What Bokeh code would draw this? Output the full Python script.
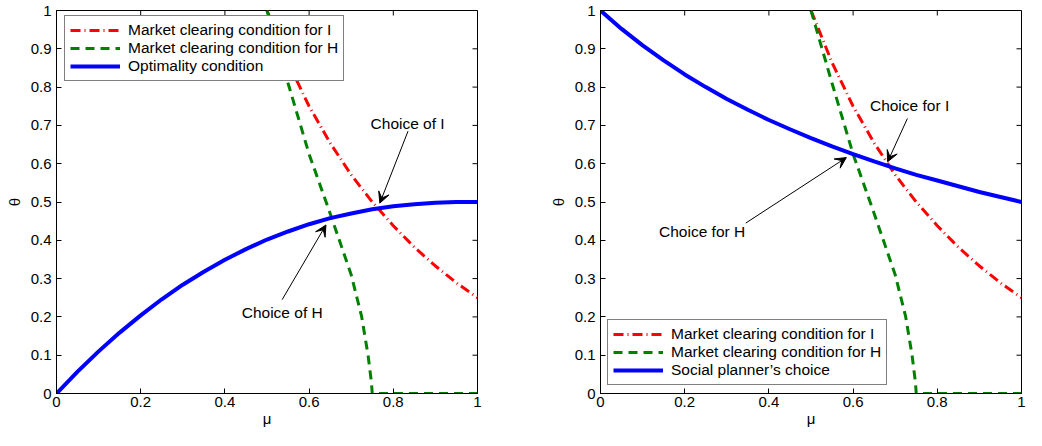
import math
from bokeh.plotting import figure
from bokeh.models import Range1d, FixedTicker, Arrow, VeeHead
from bokeh.layouts import row
from bokeh.core.properties import value
from bokeh.embed import file_html
from bokeh.resources import INLINE

# ---------------- data ----------------
x_ticks = [0, 0.2, 0.4, 0.6, 0.8, 1.0]
x_tick_labels = ["0", "0.2", "0.4", "0.6", "0.8", "1"]
y_ticks = [0, 0.1, 0.2, 0.3, 0.4, 0.5, 0.6, 0.7, 0.8, 0.9, 1.0]
y_tick_labels = ["0", "0.1", "0.2", "0.3", "0.4", "0.5", "0.6", "0.7", "0.8", "0.9", "1"]

mu_I = [0.5, 0.55, 0.6, 0.65, 0.7, 0.75, 0.8, 0.85, 0.9, 0.95, 1.0]
theta_I = [1.0, 0.864, 0.75, 0.654, 0.571, 0.5, 0.438, 0.382, 0.333, 0.289, 0.25]

mu_H = [0.5, 0.55, 0.6, 0.65, 0.7, 0.725, 0.74, 0.748, 0.75, 0.8, 0.9, 1.0]
theta_H = [1.0, 0.81, 0.625, 0.47, 0.31, 0.2, 0.1, 0.03, 0.0, 0.0, 0.0, 0.0]

mu_curve = [0, 0.05, 0.1, 0.15, 0.2, 0.25, 0.3, 0.35, 0.4, 0.45, 0.5,
            0.55, 0.6, 0.65, 0.7, 0.75, 0.8, 0.85, 0.9, 0.95, 1.0]
theta_optimality = [0, 0.057, 0.11, 0.159, 0.204, 0.246, 0.284, 0.318, 0.349, 0.377, 0.402,
                    0.423, 0.442, 0.458, 0.47, 0.481, 0.489, 0.494, 0.498, 0.5, 0.5]
theta_social = [1.0, 0.952, 0.909, 0.87, 0.833, 0.8, 0.769, 0.741, 0.714, 0.69, 0.667,
                0.645, 0.625, 0.606, 0.588, 0.571, 0.556, 0.541, 0.526, 0.513, 0.5]

legend_I = "Market clearing condition for I"
legend_H = "Market clearing condition for H"
legend_opt = "Optimality condition"
legend_social = "Social planner\u2019s choice"

RED = "#ff0000"
GREEN = "#008000"
BLUE = "#0000ff"
FONT = "Arial"
TICK_SIZE = "15px"
TEXT_SIZE = "15.5px"

X_MIN, X_MAX = 0.0, 1.0
Y_MIN, Y_MAX = 0.0, 1.0
FRAME_W, FRAME_H = 421, 383


def make_fig(border_left, border_right):
    p = figure(frame_width=FRAME_W, frame_height=FRAME_H, output_backend="svg",
               toolbar_location=None,
               x_range=Range1d(X_MIN, X_MAX), y_range=Range1d(Y_MIN, Y_MAX),
               min_border_left=border_left, min_border_right=border_right,
               min_border_top=10, min_border_bottom=37)
    p.xgrid.grid_line_color = None
    p.ygrid.grid_line_color = None
    p.outline_line_color = "black"
    p.outline_line_width = 1
    p.background_fill_color = "white"

    for ax, ticks, labels in ((p.xaxis[0], x_ticks, x_tick_labels),
                              (p.yaxis[0], y_ticks, y_tick_labels)):
        ax.ticker = FixedTicker(ticks=ticks)
        ax.major_label_overrides = {t: l for t, l in zip(ticks, labels)}
        ax.major_tick_in = 5
        ax.major_tick_out = 0
        ax.minor_tick_line_color = None
        ax.major_label_text_font = FONT
        ax.major_label_text_font_size = TICK_SIZE
        ax.major_label_text_color = "black"
        ax.axis_label_text_font = FONT
        ax.axis_label_text_font_size = TICK_SIZE
        ax.axis_label_text_font_style = "normal"
        ax.axis_label_text_color = "black"
        ax.axis_line_color = "black"
        ax.major_tick_line_color = "black"
    p.xaxis[0].axis_label = "\u03bc"
    p.xaxis[0].major_label_standoff = 3
    p.xaxis[0].axis_label_standoff = 0
    p.yaxis[0].axis_label = "\u03b8"
    p.yaxis[0].major_label_standoff = 5
    p.yaxis[0].axis_label_standoff = 5

    # mirrored ticks on the top and right edges of the box
    p.ray(x=x_ticks, y=[Y_MAX] * len(x_ticks), length=5, length_units="screen",
          angle=-math.pi / 2, line_color="black", line_width=1)
    p.ray(x=[X_MAX] * len(y_ticks), y=y_ticks, length=5, length_units="screen",
          angle=math.pi, line_color="black", line_width=1)
    return p


def add_text(p, x, y, s):
    p.text(x=[x], y=[y], text=[s], text_font=value(FONT), text_font_size=TEXT_SIZE,
           text_color="black", text_align="left", text_baseline="middle")


def add_arrow(p, xs, ys, xe, ye):
    p.add_layout(Arrow(end=VeeHead(size=11, fill_color="black", line_color="black", line_width=1),
                       x_start=xs, y_start=ys, x_end=xe, y_end=ye,
                       line_color="black", line_width=1))


def style_legend(p, loc):
    lg = p.legend[0]
    lg.location = loc
    lg.border_line_color = "black"
    lg.border_line_width = 1
    lg.background_fill_color = "white"
    lg.background_fill_alpha = 1.0
    lg.label_text_font = FONT
    lg.label_text_font_size = TEXT_SIZE
    lg.label_text_color = "black"
    lg.glyph_width = 50
    lg.glyph_height = 18
    lg.label_height = 18
    lg.label_standoff = 8
    lg.spacing = 0
    lg.padding = 5
    lg.margin = 0


# ---------------- left panel ----------------
p1 = make_fig(56, 10)
p1.line(mu_I, theta_I, line_color=RED, line_width=3, line_dash="10 4 1 4", legend_label=legend_I)
p1.line(mu_H, theta_H, line_color=GREEN, line_width=3, line_dash="9 6", legend_label=legend_H)
p1.line(mu_curve, theta_optimality, line_color=BLUE, line_width=4, legend_label=legend_opt)
style_legend(p1, (8, 312))
add_text(p1, 0.746, 0.706, "Choice of I")
add_arrow(p1, 0.835, 0.685, 0.768, 0.497)
add_text(p1, 0.44, 0.212, "Choice of H")
add_arrow(p1, 0.536, 0.245, 0.64, 0.44)

# ---------------- right panel ----------------
p2 = make_fig(113, 5)
p2.line(mu_I, theta_I, line_color=RED, line_width=3, line_dash="10 4 1 4", legend_label=legend_I)
p2.line(mu_H, theta_H, line_color=GREEN, line_width=3, line_dash="9 6", legend_label=legend_H)
p2.line(mu_curve, theta_social, line_color=BLUE, line_width=4, legend_label=legend_social)
style_legend(p2, (7, 8))
add_text(p2, 0.64, 0.751, "Choice for I")
add_arrow(p2, 0.729, 0.718, 0.682, 0.605)
add_text(p2, 0.139, 0.424, "Choice for H")
add_arrow(p2, 0.345, 0.445, 0.584, 0.616)

layout = row(p1, p2)
open("out.html", "w").write(file_html(layout, INLINE))
